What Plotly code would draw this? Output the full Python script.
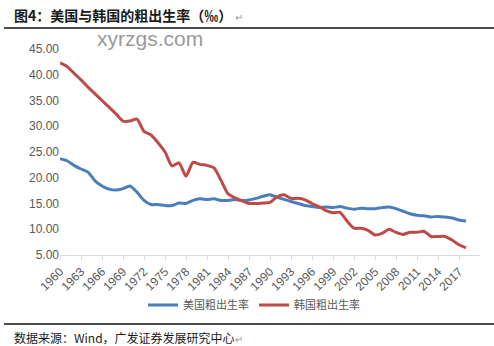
import plotly.graph_objects as go

years = list(range(1960, 2019))
us_rate = [23.7, 23.3, 22.4, 21.7, 21.1, 19.4, 18.4, 17.8, 17.6, 17.9,
           18.4, 17.2, 15.6, 14.8, 14.8, 14.6, 14.6, 15.1, 15.0, 15.6,
           15.9, 15.8, 15.9, 15.6, 15.6, 15.8, 15.6, 15.7, 16.0, 16.4,
           16.7, 16.2, 15.8, 15.4, 15.0, 14.6, 14.4, 14.2, 14.3, 14.2,
           14.4, 14.1, 13.9, 14.1, 14.0, 14.0, 14.2, 14.3, 14.0, 13.5,
           13.0, 12.7, 12.6, 12.4, 12.5, 12.4, 12.2, 11.8, 11.6]
kr_rate = [42.3, 41.6, 40.3, 39.0, 37.6, 36.3, 35.0, 33.7, 32.4, 31.0,
           31.0, 31.4, 29.0, 28.3, 26.8, 25.0, 22.3, 22.9, 20.3, 23.0,
           22.6, 22.4, 21.9, 19.5, 16.9, 16.1, 15.5, 15.0, 15.0, 15.1,
           15.2, 16.3, 16.7, 16.0, 16.0, 15.7, 15.0, 14.4, 13.6, 13.2,
           13.3, 11.6, 10.2, 10.2, 9.8, 8.9, 9.2, 10.0, 9.4, 9.0,
           9.4, 9.4, 9.6, 8.6, 8.6, 8.6, 7.9, 7.0, 6.4]
series_names = ["美国粗出生率", "韩国粗出生率"]
y_ticks = [5, 10, 15, 20, 25, 30, 35, 40, 45]
x_ticks = list(range(1960, 2018, 3))

title_text = "图4：美国与韩国的粗出生率（‰）"
source_text = "数据来源：Wind，广发证券发展研究中心"
watermark = "xyrzgs.com"

CJK = "Noto Sans CJK SC"

W, H = 494, 346
pl, pr, pt, pb = 60, 14, 49, 91
pw, ph = W - pl - pr, H - pt - pb


def px(x):
    return (x - pl) / pw


def py(y):
    return (H - pb - y) / ph


fig = go.Figure()
fig.add_trace(go.Scatter(x=years, y=us_rate, name=series_names[0], mode="lines",
                         line=dict(color="#4A7EBB", width=3, shape="spline", smoothing=0.6)))
fig.add_trace(go.Scatter(x=years, y=kr_rate, name=series_names[1], mode="lines",
                         line=dict(color="#BE4B48", width=3, shape="spline", smoothing=0.6)))

fig.update_layout(
    width=W, height=H,
    margin=dict(l=pl, r=pr, t=pt, b=pb),
    paper_bgcolor="white", plot_bgcolor="white",
    font=dict(family="Liberation Sans, Arial", size=11, color="#595959"),
    showlegend=True,
    legend=dict(orientation="h", x=px(254), xanchor="center", y=py(305), yanchor="middle",
                font=dict(family=CJK, size=11, color="#595959"),
                itemwidth=30, traceorder="normal"),
    xaxis=dict(range=[1960, 2020], tickmode="array", tickvals=x_ticks,
               ticktext=[str(t) for t in x_ticks], tickangle=-45,
               showgrid=False, zeroline=False, showline=True, linecolor="#D9D9D9",
               linewidth=1, ticks="outside", tickcolor="#D9D9D9", ticklen=4,
               tickfont=dict(size=12, color="#595959")),
    yaxis=dict(range=[5, 45], tickmode="array", tickvals=y_ticks,
               ticktext=["%.2f" % v for v in y_ticks],
               showgrid=False, zeroline=False, showline=False, ticks="",
               tickfont=dict(size=12, color="#595959")),
)

# title
fig.add_annotation(x=px(12), y=py(15), xref="paper", yref="paper",
                   text="<b>" + title_text + "</b>" +
                   "<span style='color:#999999;font-size:10px'> ↵</span>",
                   showarrow=False, xanchor="left", yanchor="middle",
                   font=dict(family=CJK, size=14, color="#1a1a1a"))
# watermark
fig.add_annotation(x=px(150), y=py(38), xref="paper", yref="paper", text=watermark,
                   showarrow=False, xanchor="center", yanchor="middle",
                   font=dict(family="Liberation Sans, Arial", size=21, color="#9a9a9a"))
# source
fig.add_annotation(x=px(12), y=py(337), xref="paper", yref="paper",
                   text=source_text + "<span style='color:#999999;font-size:10px'>↵</span>",
                   showarrow=False, xanchor="left", yanchor="middle",
                   font=dict(family=CJK, size=12, color="#1a1a1a"))

fig.add_shape(type="line", xref="paper", yref="paper", x0=px(4), x1=px(494),
              y0=py(28), y1=py(28), line=dict(color="#111111", width=1.5))
fig.add_shape(type="line", xref="paper", yref="paper", x0=px(4), x1=px(494),
              y0=py(324), y1=py(324), line=dict(color="#111111", width=1.5))

fig.write_html("out.html")
